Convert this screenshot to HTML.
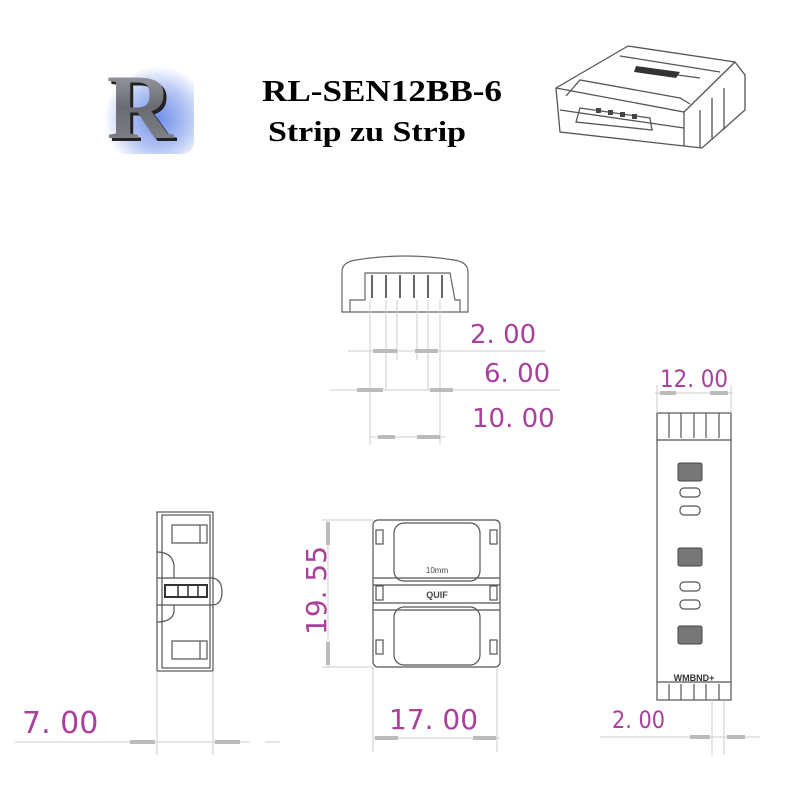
<!DOCTYPE html>
<html><head><meta charset="utf-8"><style>
html,body{margin:0;padding:0;background:#fff;width:800px;height:800px;overflow:hidden}
svg{display:block}
.d{font-family:"DejaVu Sans","Liberation Sans",sans-serif;fill:#a8409c}
</style></head><body>
<svg width="800" height="800" viewBox="0 0 800 800" xmlns="http://www.w3.org/2000/svg">
<defs>
<radialGradient id="gl" cx="0.6" cy="0.6" r="0.6"><stop offset="0" stop-color="#6f8fe8"/><stop offset="0.6" stop-color="#b8c8f4"/><stop offset="1" stop-color="#fff"/></radialGradient>
<linearGradient id="rg" x1="0" y1="0" x2="0" y2="1"><stop offset="0" stop-color="#b0b0b8"/><stop offset="0.5" stop-color="#6a6a72"/><stop offset="1" stop-color="#8a8a92"/></linearGradient>
</defs>
<!-- logo -->
<rect x="104" y="66" width="90" height="88" fill="url(#gl)" rx="12"/>
<text x="140" y="138" text-anchor="middle" font-family="Liberation Serif,serif" font-weight="bold" font-size="92" fill="#222" transform="translate(3,3)">R</text>
<text x="140" y="138" text-anchor="middle" font-family="Liberation Serif,serif" font-weight="bold" font-size="92" fill="url(#rg)">R</text>
<!-- title -->
<text x="262" y="101" font-family="Liberation Serif,serif" font-weight="bold" font-size="31" textLength="240" lengthAdjust="spacingAndGlyphs" fill="#000">RL-SEN12BB-6</text>
<text x="268" y="141" font-family="Liberation Serif,serif" font-weight="bold" font-size="29" textLength="198" lengthAdjust="spacingAndGlyphs" fill="#000">Strip zu Strip</text>
<!-- 3D connector -->
<g fill="none" stroke="#555" stroke-width="1.3">
<path d="M556 88 L628 46 L735 62 L745 75 L745 110 L702 148 L684 146 L560 132 Z"/>
<path d="M556 88 L684 112 L735 62"/>
<path d="M684 112 L684 146"/>
<path d="M566 96 L580 80 L680 98 L690 104"/>
<path d="M560 110 L684 128"/>
<path d="M700 110 L700 148 M712 98 L712 140 M724 88 L724 130"/>
<path d="M580 108 L650 118 L652 130 L576 122 Z"/>
<path d="M620 56 L720 72 M640 70 L700 78"/>
</g>
<path d="M636 66 L680 72 L676 78 L634 72Z" fill="#333"/>
<g fill="#444"><rect x="596" y="108" width="5" height="5"/><rect x="608" y="110" width="5" height="5"/><rect x="620" y="112" width="5" height="5"/><rect x="632" y="114" width="5" height="5"/></g>

<!-- top view -->
<g fill="none" stroke="#666" stroke-width="1.2">
<path d="M342 312 L342 272 Q342 262 356 260 Q405 252 454 260 Q468 262 468 272 L468 312 Z"/>
<path d="M350 312 L350 300 L365 300 L365 273 L450 273 L455 300 L460 300 L460 312"/>
<path d="M372 275 V298 M386 275 V298 M400 275 V298 M414 275 V298 M428 275 V298 M442 275 V298" stroke-width="2"/>
</g>
<g stroke="#ccc" stroke-width="1">
<path d="M370 300 V445 M386 300 V390 M397 300 V360 M417 300 V360 M428 300 V390 M440 300 V445"/>
<path d="M348 351 H545 M330 390 H560 M370 437 H445"/>
</g>
<g fill="#bbb"><path d="M373 349 H397 L397 353 H373Z M415 349 H438 V353 H415Z M357 388 H383 V392 H357Z M430 388 H453 V392 H430Z M378 435 H395 V439 H378Z M417 435 H440 V439 H417Z"/></g>
<text class="d" x="470" y="343" font-size="26">2. 00</text>
<text class="d" x="484" y="382" font-size="26">6. 00</text>
<text class="d" x="472" y="427" font-size="26">10. 00</text>

<!-- side view -->
<g fill="none" stroke="#555" stroke-width="1.2">
<rect x="157" y="512" width="56" height="159"/>
<rect x="162" y="515" width="48" height="153"/>
<path d="M157 578 H213 Q222 580 222 592 Q222 604 213 605 H157"/>
<path d="M157 552 Q172 552 174 565 V578 M157 622 Q172 622 174 612 V605"/>
<rect x="172" y="525" width="35" height="18"/><rect x="172" y="641" width="35" height="18"/>
<path d="M200 525 V543 M200 641 V659"/>
</g>
<rect x="165" y="585" width="42" height="12" fill="none" stroke="#333" stroke-width="2"/>
<path d="M178 585 V597 M188 585 V597 M198 585 V597" stroke="#333" stroke-width="1.5"/>
<g stroke="#ccc"><path d="M157 671 V755 M213 671 V755 M15 742 H250 M265 742 H280"/></g>
<g fill="#bbb"><path d="M130 740 H155 V744 H130Z M215 740 H240 V744 H215Z"/></g>
<text class="d" x="22" y="733" font-size="30">7. 00</text>

<!-- front view -->
<g fill="none" stroke="#555" stroke-width="1.2">
<rect x="373" y="520" width="127" height="147" rx="5"/>
<rect x="394" y="523" width="86" height="58" rx="10"/>
<rect x="394" y="607" width="86" height="58" rx="10"/>
<path d="M373 578 H500 M373 585 H500 M373 603 H500 M373 610 H500"/>
<rect x="376" y="530" width="7" height="14"/><rect x="490" y="530" width="7" height="14"/>
<rect x="376" y="586" width="7" height="14"/><rect x="490" y="586" width="7" height="14"/>
<rect x="376" y="640" width="7" height="14"/><rect x="490" y="640" width="7" height="14"/>
</g>
<text x="437" y="573" text-anchor="middle" font-family="Liberation Sans,sans-serif" font-size="8" fill="#444">10mm</text>
<text x="437" y="598" text-anchor="middle" font-family="Liberation Sans,sans-serif" font-size="9" font-weight="bold" fill="#444">QUIF</text>
<g stroke="#ccc"><path d="M322 520 H373 M322 667 H373 M328 520 V667 M373 667 V752 M497 667 V752 M373 738 H500"/></g>
<g fill="#bbb"><path d="M326 522 H330 V545 H326Z M326 642 H330 V665 H326Z M375 736 H398 V740 H375Z M473 736 H496 V740 H473Z"/></g>
<text class="d" font-size="28" transform="translate(326,635) rotate(-90)">19. 55</text>
<text class="d" x="389" y="729" font-size="28">17. 00</text>

<!-- strip -->
<g fill="none" stroke="#555" stroke-width="1.2">
<rect x="657" y="413" width="74" height="287"/>
<path d="M657 440 H731 M657 682 H731"/>
<path d="M669 413 V438 M681 413 V438 M694 413 V438 M706 413 V438 M719 413 V438"/>
<path d="M669 684 V700 M681 684 V700 M694 684 V700 M706 684 V700 M719 684 V700"/>
<rect x="680" y="488" width="20" height="9" rx="4"/><rect x="680" y="506" width="20" height="9" rx="4"/>
<rect x="680" y="582" width="20" height="9" rx="4"/><rect x="680" y="600" width="20" height="9" rx="4"/>
</g>
<g fill="#777" stroke="#444"><rect x="678" y="463" width="24" height="18" rx="2"/><rect x="678" y="548" width="24" height="18" rx="2"/><rect x="678" y="626" width="24" height="18" rx="2"/></g>
<text x="694" y="681" text-anchor="middle" font-family="Liberation Sans,sans-serif" font-size="9" font-weight="bold" fill="#333">WMBND+</text>
<g stroke="#ccc"><path d="M657 413 V385 M731 413 V385 M655 393 H733 M712 700 V755 M724 700 V755 M600 737 H760"/></g>
<g fill="#bbb"><path d="M660 391 H676 V395 H660Z M710 391 H728 V395 H710Z M690 735 H710 V739 H690Z M727 735 H745 V739 H727Z"/></g>
<text class="d" x="660" y="387" font-size="24" textLength="68" lengthAdjust="spacingAndGlyphs">12. 00</text>
<text class="d" x="612" y="728" font-size="24" textLength="53" lengthAdjust="spacingAndGlyphs">2. 00</text>
</svg>
</body></html>
